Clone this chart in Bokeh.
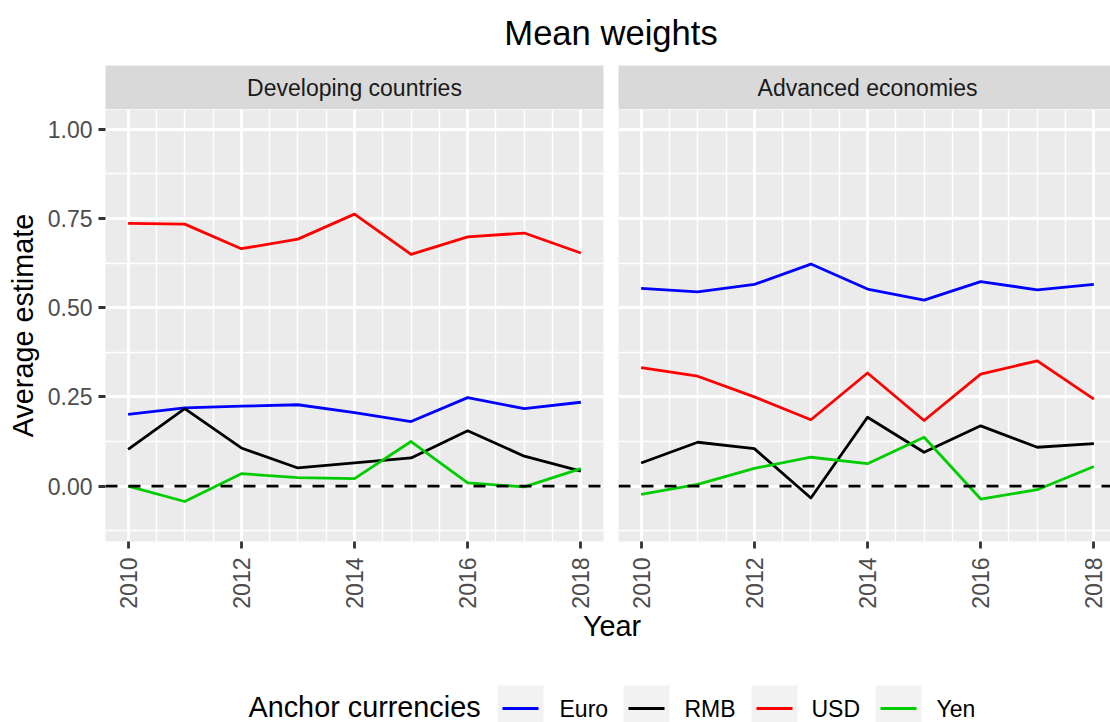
import numpy as np
from bokeh.plotting import figure
from bokeh.models import (Range1d, FixedTicker, LinearAxis, Grid, Span, Label,
                          PrintfTickFormatter)
from bokeh.layouts import column, row
from bokeh.embed import file_html
from bokeh.resources import INLINE

# ---------------- data ----------------
years = [2010, 2011, 2012, 2013, 2014, 2015, 2016, 2017, 2018]
currencies = ["Euro", "RMB", "USD", "Yen"]
currency_colors = ["#0000FF", "#000000", "#FF0000", "#00CD00"]
panel_names = ["Developing countries", "Advanced economies"]

dev_euro = [0.201, 0.219, 0.224, 0.228, 0.206, 0.181, 0.248, 0.217, 0.235]
dev_rmb = [0.103, 0.217, 0.107, 0.051, 0.065, 0.079, 0.155, 0.084, 0.042]
dev_usd = [0.736, 0.734, 0.665, 0.692, 0.762, 0.649, 0.698, 0.709, 0.653]
dev_yen = [0.000, -0.043, 0.035, 0.024, 0.021, 0.125, 0.009, -0.002, 0.049]

adv_euro = [0.554, 0.544, 0.565, 0.622, 0.552, 0.521, 0.573, 0.550, 0.565]
adv_rmb = [0.065, 0.123, 0.105, -0.033, 0.193, 0.095, 0.169, 0.109, 0.119]
adv_usd = [0.332, 0.308, 0.250, 0.186, 0.317, 0.184, 0.314, 0.351, 0.244]
adv_yen = [-0.023, 0.005, 0.050, 0.081, 0.063, 0.137, -0.036, -0.010, 0.055]

series = {
    "Developing countries": [dev_euro, dev_rmb, dev_usd, dev_yen],
    "Advanced economies": [adv_euro, adv_rmb, adv_usd, adv_yen],
}

y_breaks = [0.0, 0.25, 0.5, 0.75, 1.0]
y_minor = [-0.125, 0.125, 0.375, 0.625, 0.875]
x_breaks = [2010, 2012, 2014, 2016, 2018]
x_minor = [2010 + 0.5 * k for k in range(0, 17) if (2010 + 0.5 * k) not in x_breaks]

# ---------------- style ----------------
FONT = "Liberation Sans"
PANEL_BG = "#EBEBEB"
STRIP_BG = "#D9D9D9"
KEY_BG = "#F2F2F2"
LW = 2.8

TOTAL_W = 1110
FRAME_W = 498
FRAME2_W = 492
FRAME_H = 432
X0, X1 = 2009.6, 2018.4
Y0, Y1 = -0.155, 1.055
px_per_year = FRAME_W / (X1 - X0)

xr1 = Range1d(X0, X1)
xr2 = Range1d(X0, X0 + FRAME2_W / px_per_year)


def strip_grids(f):
    f.center = [r for r in f.center if not isinstance(r, Grid)]
    return f


def make_panel(name, xr, frame_w, left, right, with_y):
    p = figure(frame_width=frame_w, frame_height=FRAME_H, x_range=xr,
               y_range=Range1d(Y0, Y1), output_backend="svg",
               toolbar_location=None, x_axis_location=None, y_axis_location=None,
               min_border_left=left, min_border_right=right,
               min_border_top=0, min_border_bottom=69,
               background_fill_color=PANEL_BG, border_fill_color="white",
               outline_line_color=None)
    strip_grids(p)
    xt = FixedTicker(ticks=x_breaks, minor_ticks=x_minor)
    yt = FixedTicker(ticks=y_breaks, minor_ticks=y_minor)
    for dim, tk in ((0, xt), (1, yt)):
        p.add_layout(Grid(dimension=dim, ticker=tk, grid_line_color="white",
                          grid_line_width=LW, minor_grid_line_color="white",
                          minor_grid_line_width=LW / 2))
    xa = LinearAxis(ticker=xt, major_label_orientation=np.pi / 2,
                    major_label_text_font=FONT, major_label_text_font_size="23px",
                    major_label_text_color="#4D4D4D", axis_line_color=None,
                    major_tick_line_color="#333333", major_tick_line_width=LW,
                    major_tick_in=0, major_tick_out=7, minor_tick_line_color=None,
                    major_label_standoff=9)
    p.add_layout(xa, "below")
    if with_y:
        ya = LinearAxis(ticker=yt, formatter=PrintfTickFormatter(format="%.2f"),
                        major_label_text_font=FONT, major_label_text_font_size="23px",
                        major_label_text_color="#4D4D4D", axis_line_color=None,
                        major_tick_line_color="#333333", major_tick_line_width=LW,
                        major_tick_in=0, major_tick_out=7, minor_tick_line_color=None,
                        major_label_standoff=6,
                        axis_label="Average estimate", axis_label_text_font=FONT,
                        axis_label_text_font_size="28.8px",
                        axis_label_text_font_style="normal",
                        axis_label_text_color="black", axis_label_standoff=6)
        p.add_layout(ya, "left")
    for vals, col in zip(series[name], currency_colors):
        p.line(years, vals, line_color=col, line_width=LW, line_join="round")
    p.add_layout(Span(location=0, dimension="width", line_color="black",
                      line_width=LW, line_dash="12 11"))
    return p


def make_strip(name, xr, frame_w, left, right):
    s = figure(frame_width=frame_w, frame_height=44, x_range=xr,
               y_range=Range1d(0, 44), output_backend="svg",
               toolbar_location=None, x_axis_location=None, y_axis_location=None,
               min_border_left=left, min_border_right=right,
               min_border_top=0, min_border_bottom=0,
               background_fill_color=STRIP_BG, border_fill_color="white",
               outline_line_color=None)
    strip_grids(s)
    s.add_layout(Label(x=(X0 + X1) / 2, y=22, text=name, text_align="center",
                       text_baseline="alphabetic", text_font=FONT,
                       text_font_size="23px", text_color="#1A1A1A"))
    return s


def blank(w, h):
    f = figure(width=w, height=h, x_range=Range1d(0, w), y_range=Range1d(0, h),
               output_backend="svg", toolbar_location=None,
               x_axis_location=None, y_axis_location=None,
               min_border_left=0, min_border_right=0, min_border_top=0,
               min_border_bottom=0, background_fill_color="white",
               border_fill_color="white", outline_line_color=None)
    strip_grids(f)
    return f


# title
title_fig = blank(TOTAL_W, 65)
title_fig.add_layout(Label(x=610.5, y=33, text="Mean weights", text_align="center",
                           text_baseline="alphabetic", text_font=FONT,
                           text_font_size="34.6px", text_color="black"))

strip1 = make_strip(panel_names[0], xr1, FRAME_W, 105, 7)
strip2 = make_strip(panel_names[1], xr2, FRAME2_W, 8, 0)
p1 = make_panel(panel_names[0], xr1, FRAME_W, 105, 7, True)
p2 = make_panel(panel_names[1], xr2, FRAME2_W, 8, 0, False)

# bottom: x-axis title + legend
bottom = blank(TOTAL_W, 112)
bottom.add_layout(Label(x=611.5, y=98, text="Year", text_align="center",
                        text_baseline="alphabetic", text_font=FONT,
                        text_font_size="28.8px", text_color="black"))
bottom.add_layout(Label(x=248, y=17, text="Anchor currencies", text_align="left",
                        text_baseline="alphabetic", text_font=FONT,
                        text_font_size="28.8px", text_color="black"))
key_left = [497, 623, 751, 875]
label_left = [559, 684, 811, 936]
KEY = 46
for kx, lx, name, col in zip(key_left, label_left, currencies, currency_colors):
    bottom.quad(left=[kx], right=[kx + KEY], bottom=[-8], top=[38],
                fill_color=KEY_BG, line_color=None)
    bottom.segment(x0=[kx + 5], x1=[kx + KEY - 5], y0=[15], y1=[15],
                   line_color=col, line_width=LW)
    bottom.add_layout(Label(x=lx, y=15, text=name, text_align="left",
                            text_baseline="alphabetic", text_font=FONT,
                            text_font_size="23px", text_color="black"))

layout = column(title_fig, row(strip1, strip2), row(p1, p2), bottom, spacing=0)

with open("out.html", "w") as f:
    f.write(file_html(layout, INLINE))
